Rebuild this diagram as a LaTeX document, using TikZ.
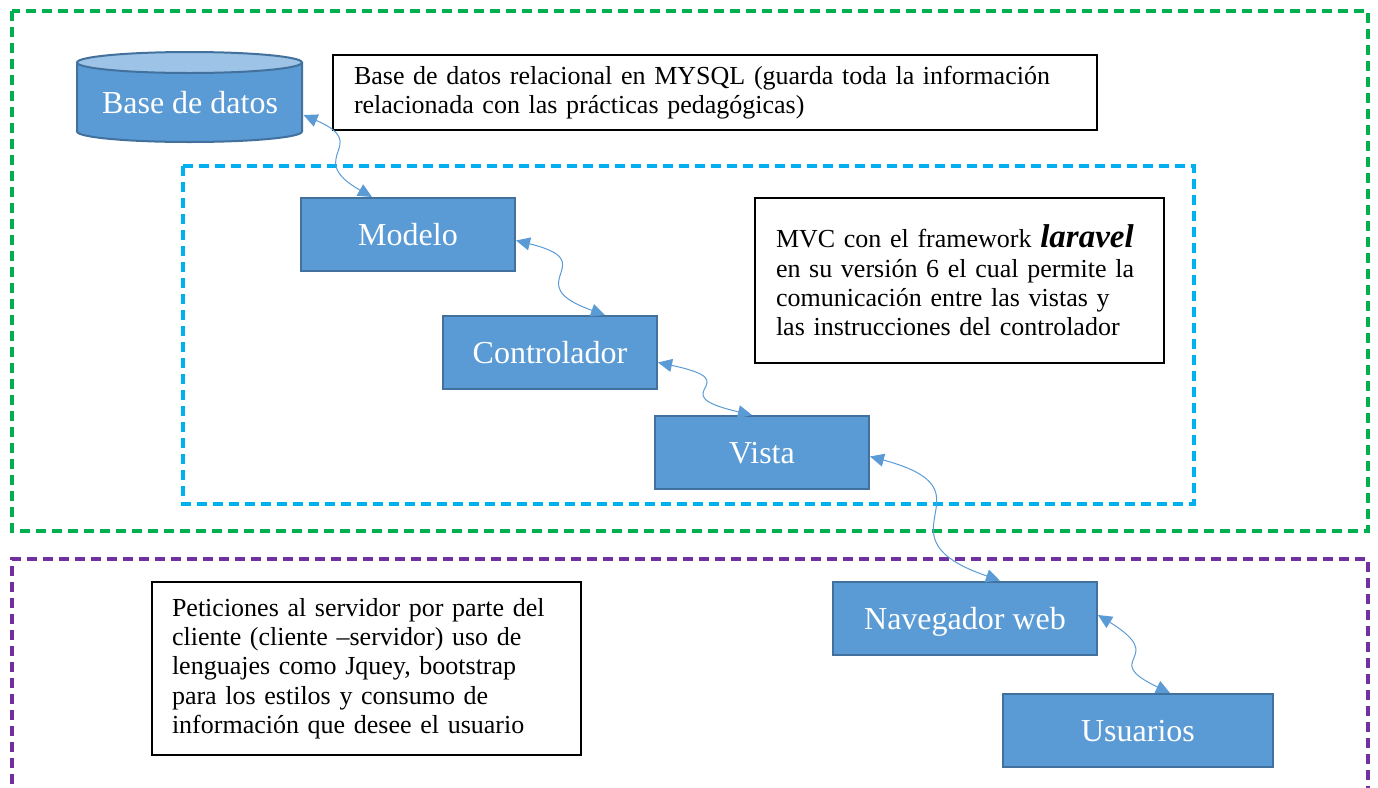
\documentclass[tikz,border=0pt]{standalone}
\usepackage{fontspec}
\setmainfont{Liberation Serif}
\usetikzlibrary{arrows.meta}
\definecolor{boxblue}{HTML}{5B9BD5}
\definecolor{boxedge}{HTML}{41719C}
\definecolor{dbtop}{HTML}{9DC3E6}
\definecolor{mvcgreen}{HTML}{00B050}
\definecolor{mvccyan}{HTML}{00B0F0}
\definecolor{webpurple}{HTML}{7030A0}
\begin{document}
\begin{tikzpicture}[x=0.5pt,y=-0.5pt,
    layer/.style={draw=#1,line width=1.75pt,dash pattern=on 5pt off 3pt},
    part/.style={draw=boxedge,fill=boxblue,line width=1pt,text=white,
      font=\fontsize{16}{19}\selectfont,text height=11pt,text depth=0pt,minimum height=36.5pt},
    note/.style={draw=black,line width=0.75pt,fill=white,align=left,inner xsep=10.5pt,
      font=\fontsize{13}{14.65}\selectfont},
    link/.style={draw=boxblue,line width=0.5pt,>={Triangle[length=7pt,width=6.5pt]},<->}]
  \useasboundingbox (0,0) rectangle (1378,788);
  % dashed layers
  \draw[layer=mvcgreen] (12,11) rectangle (1368,531);
  \draw[layer=mvccyan] (183,166) rectangle (1194,504);
  \draw[layer=webpurple] (12,800) -- (12,559) -- (1368,559) -- (1368,800);
  % database cylinder
  \fill[boxblue] (77,62.5) -- (77,131.5)
    arc[start angle=180,end angle=360,x radius=56.25pt,y radius=5.25pt] -- (302,62.5) -- cycle;
  \draw[boxedge,line width=1pt] (77,62.5) -- (77,131.5)
    arc[start angle=180,end angle=360,x radius=56.25pt,y radius=5.25pt] -- (302,62.5);
  \draw[boxedge,line width=1pt,fill=dbtop] (189.5,62.5) ellipse[x radius=56.25pt,y radius=5.25pt];
  \node[part,draw=none,fill=none,minimum width=112.5pt] (db) at (190,102) {Base de datos};
  % boxes
  \node[part,minimum width=107pt] (modelo) at (408,234.5) {Modelo};
  \node[part,minimum width=107pt] (controlador) at (550,352.5) {Controlador};
  \node[part,minimum width=107pt] (vista) at (762,452.5) {Vista};
  \node[part,minimum width=132pt] (navegador) at (965,618) {Navegador web};
  \node[part,minimum width=135pt] (usuarios) at (1138,730.5) {Usuarios};
  % notes
  \node[note,text width=361pt,minimum height=37.5pt] (dbnote) at (715,92.5)
    {Base de datos relacional en MYSQL (guarda toda la información\\
     relacionada con las prácticas pedagógicas)};
  \node[note,text width=183.5pt,minimum height=82.5pt] (mvcnote) at (959.5,280.5)
    {MVC con el framework {\fontsize{16.5}{14.65}\selectfont\bfseries\itshape laravel}\\
     en su versión 6 el cual permite la\\
     comunicación entre las vistas y\\
     las instrucciones del controlador};
  \node[note,text width=194.5pt,minimum height=86.5pt,inner xsep=10pt] (webnote) at (366.5,668.5)
    {Peticiones al servidor por parte del\\
     cliente (cliente –servidor) uso de\\
     lenguajes como Jquey, bootstrap\\
     para los estilos y consumo de\\
     información que desee el usuario};
  \begin{scope}[link]
    \draw ([yshift=-6.5pt]db.east) .. controls +(70,30) and +(-70,-40) .. ([xshift=-18pt]modelo.north);
    \draw ([yshift=-3pt]modelo.east) .. controls +(90,22) and +(-90,-32) .. ([xshift=27.5pt]controlador.north);
    \draw ([yshift=-5pt]controlador.east) .. controls +(95,20) and +(-95,-22) .. ([xshift=-5pt]vista.north);
    \draw ([yshift=-2pt]vista.east) .. controls +(131,35) and +(-131,-45) .. ([xshift=17.5pt]navegador.north);
    \draw ([yshift=1.5pt]navegador.east) .. controls +(73,45) and +(-73,-35) .. ([xshift=16pt]usuarios.north);
  \end{scope}
\end{tikzpicture}
\end{document}
